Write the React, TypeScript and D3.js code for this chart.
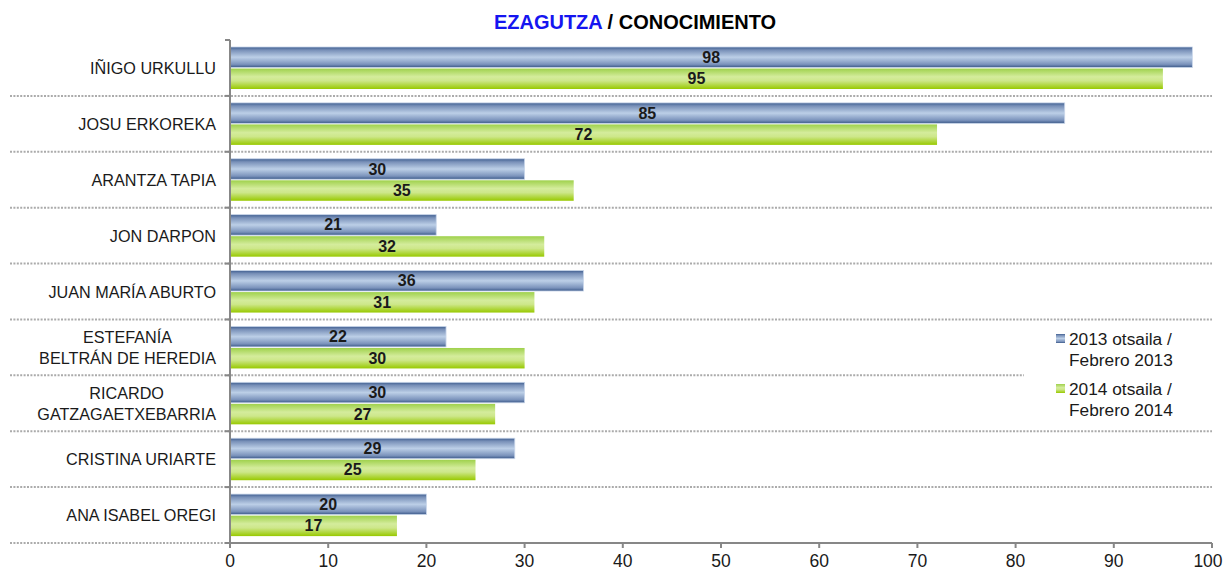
import React, { useEffect, useRef } from 'react';
import * as d3 from 'd3';

const people = [
  'IÑIGO URKULLU',
  'JOSU ERKOREKA',
  'ARANTZA TAPIA',
  'JON DARPON',
  'JUAN MARÍA ABURTO',
  'ESTEFANÍA\nBELTRÁN DE HEREDIA',
  'RICARDO\nGATZAGAETXEBARRIA',
  'CRISTINA URIARTE',
  'ANA ISABEL OREGI',
];

const feb2013 = [98, 85, 30, 21, 36, 22, 30, 29, 20];
const feb2014 = [95, 72, 35, 32, 31, 30, 27, 25, 17];

const seriesNames = [
  ['2013 otsaila /', 'Febrero 2013'],
  ['2014 otsaila /', 'Febrero 2014'],
];

const xTicks = [0, 10, 20, 30, 40, 50, 60, 70, 80, 90, 100];

const FONT = '"Liberation Sans", Arial, sans-serif';

export default function App() {
  const svgRef = useRef<SVGSVGElement>(null);

  useEffect(() => {
    document.body.style.margin = '0';
    document.body.style.overflow = 'hidden';
    if (!svgRef.current) return;
    const svg = d3.select(svgRef.current);
    svg.selectAll('*').remove();

    const width = 1227;
    const height = 570;
    const left = 230, right = 1212, top = 40, bottom = 543;

    const x = d3.scaleLinear().domain([0, 100]).range([left, right]);
    const y = d3.scaleBand<string>().domain(people).range([top, bottom]);
    const inner = d3.scaleBand<number>().domain([0, 1]).range([7, 49]).paddingInner(0.05);

    const defs = svg.append('defs');
    const blue = defs.append('linearGradient').attr('id', 'gBlue').attr('x1', 0).attr('y1', 0).attr('x2', 0).attr('y2', 1);
    [[0, '#3f5e90'], [0.15, '#7890b8'], [0.5, '#bccfe7'], [0.85, '#7a92bb'], [1, '#3a5888']].forEach(([o, c]) =>
      blue.append('stop').attr('offset', o as number).attr('stop-color', c as string));
    const green = defs.append('linearGradient').attr('id', 'gGreen').attr('x1', 0).attr('y1', 0).attr('x2', 0).attr('y2', 1);
    [[0, '#9fd14c'], [0.4, '#d4ec9c'], [0.6, '#cde78a'], [1, '#98c900']].forEach(([o, c]) =>
      green.append('stop').attr('offset', o as number).attr('stop-color', c as string));

    svg.append('rect').attr('width', width).attr('height', height).attr('fill', '#fff');

    // dotted separators between categories
    people.forEach((p, i) => {
      if (i === 0) return;
      svg.append('line')
        .attr('x1', 10).attr('x2', right)
        .attr('y1', y(p)!).attr('y2', y(p)!)
        .attr('stroke', '#ababab').attr('stroke-width', 2)
        .attr('stroke-dasharray', '2,1.4');
    });
    svg.append('line')
      .attr('x1', 10).attr('x2', left)
      .attr('y1', bottom).attr('y2', bottom)
      .attr('stroke', '#ababab').attr('stroke-width', 2)
      .attr('stroke-dasharray', '2,1.4');

    // bars
    const series = [feb2013, feb2014];
    series.forEach((vals, si) => {
      svg.append('g').selectAll('rect')
        .data(vals)
        .enter()
        .append('rect')
        .attr('x', x(0))
        .attr('y', (d, i) => y(people[i])! + inner(si)!)
        .attr('width', d => x(d) - x(0))
        .attr('height', inner.bandwidth())
        .attr('fill', si === 0 ? 'url(#gBlue)' : 'url(#gGreen)')
        .attr('stroke', si === 0 ? '#c9d6ea' : 'none')
        .attr('stroke-width', 0.8);

      svg.append('g').selectAll('text')
        .data(vals)
        .enter()
        .append('text')
        .attr('x', d => (x(d) + x(0)) / 2)
        .attr('y', (d, i) => y(people[i])! + inner(si)! + inner.bandwidth() / 2 + 5.5)
        .attr('text-anchor', 'middle')
        .attr('font-family', FONT)
        .attr('font-size', 16)
        .attr('font-weight', 'bold')
        .attr('fill', '#1a1a1a')
        .text(d => d);
    });

    // axes
    svg.append('line')
      .attr('x1', left).attr('x2', left).attr('y1', top).attr('y2', bottom + 5)
      .attr('stroke', '#878787').attr('stroke-width', 2);
    svg.append('line')
      .attr('x1', left - 5).attr('x2', left).attr('y1', top).attr('y2', top)
      .attr('stroke', '#878787').attr('stroke-width', 2);
    people.forEach(p => {
      svg.append('line')
        .attr('x1', left - 5).attr('x2', left).attr('y1', y(p)! + y.bandwidth()).attr('y2', y(p)! + y.bandwidth())
        .attr('stroke', '#878787').attr('stroke-width', 2);
    });
    svg.append('line')
      .attr('x1', left).attr('x2', right).attr('y1', bottom).attr('y2', bottom)
      .attr('stroke', '#878787').attr('stroke-width', 2);
    xTicks.forEach(t => {
      svg.append('line')
        .attr('x1', x(t)).attr('x2', x(t)).attr('y1', bottom).attr('y2', bottom + 5)
        .attr('stroke', '#878787').attr('stroke-width', 2);
      svg.append('text')
        .attr('x', x(t) - (t === 100 ? 4 : 0)).attr('y', 567)
        .attr('text-anchor', 'middle')
        .attr('font-family', FONT).attr('font-size', 17.5).attr('fill', '#1a1a1a')
        .text(t);
    });

    // category labels: right-aligned block, lines centred inside it
    people.forEach(p => {
      const lines = p.split('\n');
      const g = svg.append('g');
      const texts = lines.map((ln, li) =>
        g.append('text')
          .attr('y', y(p)! + y.bandwidth() / 2 + 6 + (li - (lines.length - 1) / 2) * 21)
          .attr('text-anchor', 'middle')
          .attr('font-family', FONT).attr('font-size', 16.2).attr('fill', '#1a1a1a')
          .text(ln));
      const w = d3.max(texts, t => (t.node() as SVGTextElement).getComputedTextLength()) || 0;
      texts.forEach(t => t.attr('x', 216 - w / 2));
    });

    // title
    const title = svg.append('text')
      .attr('x', 635).attr('y', 29)
      .attr('text-anchor', 'middle')
      .attr('font-family', FONT).attr('font-size', 20).attr('font-weight', 'bold');
    title.append('tspan').attr('fill', '#1515f0').text('EZAGUTZA');
    title.append('tspan').attr('fill', '#000').text(' / CONOCIMIENTO');

    // legend
    const lg = svg.append('g');
    lg.append('rect').attr('x', 1024).attr('y', 325).attr('width', 188).attr('height', 100).attr('fill', '#fff');
    seriesNames.forEach((lines, i) => {
      const y0 = 339 + i * 50;
      lg.append('rect')
        .attr('x', 1056).attr('y', y0 - 5).attr('width', 9).attr('height', 9)
        .attr('fill', i === 0 ? 'url(#gBlue)' : 'url(#gGreen)');
      lines.forEach((ln, li) => {
        lg.append('text')
          .attr('x', 1069).attr('y', y0 + 6 + li * 21)
          .attr('font-family', FONT).attr('font-size', 17.3).attr('fill', '#1a1a1a')
          .text(ln);
      });
    });
  }, []);

  return (
    <div style={{ position: 'absolute', left: 0, top: 0, width: 1227, height: 570 }}>
      <svg ref={svgRef} width={1227} height={570} viewBox="0 0 1227 570" style={{ display: 'block' }} />
    </div>
  );
}
